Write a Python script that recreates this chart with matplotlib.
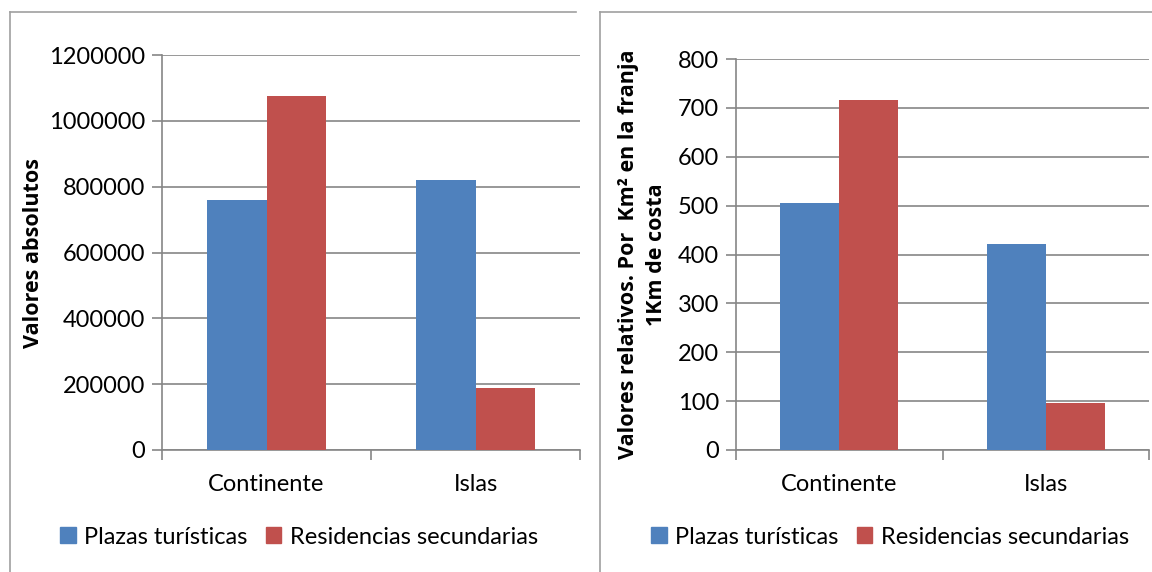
import matplotlib
matplotlib.use("Agg")
import matplotlib.pyplot as plt
import numpy as np
from matplotlib.lines import Line2D
from matplotlib.patches import Patch

categories = ["Continente", "Islas"]
series_names = ["Plazas turísticas", "Residencias secundarias"]
abs_plazas = [758000, 819000]
abs_resid = [1076000, 187000]
rel_plazas = [505, 422]
rel_resid = [716, 96]
abs_ticks = [0, 200000, 400000, 600000, 800000, 1000000, 1200000]
rel_ticks = [0, 100, 200, 300, 400, 500, 600, 700, 800]

plt.rcParams['font.family'] = ['Lato', 'DejaVu Sans']
BLUE = "#4F81BD"
RED = "#C0504D"
GRID = "#868686"
FS = 17

W, H = 1152, 572
fig = plt.figure(figsize=(W / 100, H / 100), dpi=100)

def px_axes(x0, x1, ytop, ybot):
    return fig.add_axes([x0 / W, 1 - ybot / H, (x1 - x0) / W, (ybot - ytop) / H])

def draw(ax, plazas, resid, ticks, ylabel, ymax):
    n = len(categories)
    x = np.arange(n)
    bw = 1 / 3.5
    ax.bar(x - bw / 2, plazas, width=bw, color=BLUE, zorder=3)
    ax.bar(x + bw / 2, resid, width=bw, color=RED, zorder=3)
    ax.set_xlim(-0.5, n - 0.5)
    ax.set_ylim(0, ymax)
    ax.set_yticks(ticks)
    ax.set_yticklabels([str(t) for t in ticks], fontsize=FS)
    ax.yaxis.grid(True, color=GRID, linewidth=1.2, zorder=0)
    ax.set_xticks(np.arange(n + 1) - 0.5)
    ax.set_xticklabels([])
    ax.set_xticks(x, minor=True)
    ax.set_xticklabels(categories, minor=True, fontsize=FS)
    ax.tick_params(axis='x', which='minor', length=0, pad=17)
    ax.tick_params(axis='x', which='major', length=7, color=GRID, width=1.2)
    ax.tick_params(axis='y', length=7, color=GRID, width=1.2, pad=5)
    for s in ['top', 'right']:
        ax.spines[s].set_visible(False)
    for s in ['left', 'bottom']:
        ax.spines[s].set_color(GRID)
        ax.spines[s].set_linewidth(1.2)
    ax.set_ylabel(ylabel, fontsize=15.5, fontweight='bold', linespacing=1.45,
                  family=['Open Sans', 'DejaVu Sans'])

ax1 = px_axes(162, 580, 55, 450)
draw(ax1, abs_plazas, abs_resid, abs_ticks, "Valores absolutos", 1200000)
ax1.yaxis.set_label_coords((44 - 162) / 418, 0.5)

ax2 = px_axes(736, 1149, 59, 450)
draw(ax2, rel_plazas, rel_resid, rel_ticks,
     "Valores relativos. Por  Km² en la franja\n1Km de costa", 800)
ax2.yaxis.set_label_coords((667 - 736) / 413, 0.5)

# panel borders
for (x0, x1) in [(10, 576), (600, 1152)]:
    fig.add_artist(Line2D([x0 / W, x1 / W], [1 - 12 / H, 1 - 12 / H], color="#A0A0A0", lw=1.2))
    fig.add_artist(Line2D([x0 / W, x0 / W], [0, 1 - 12 / H], color="#A0A0A0", lw=1.2))

handles = [Patch(color=BLUE), Patch(color=RED)]
for cx in [299, 890]:
    fig.legend(handles, series_names, loc='center', bbox_to_anchor=(cx / W, 1 - 537 / H),
               ncol=2, frameon=False, fontsize=FS, handlelength=0.65, handleheight=0.65,
               handletextpad=0.35, columnspacing=0.8)

fig.savefig("out.png", dpi=100)
